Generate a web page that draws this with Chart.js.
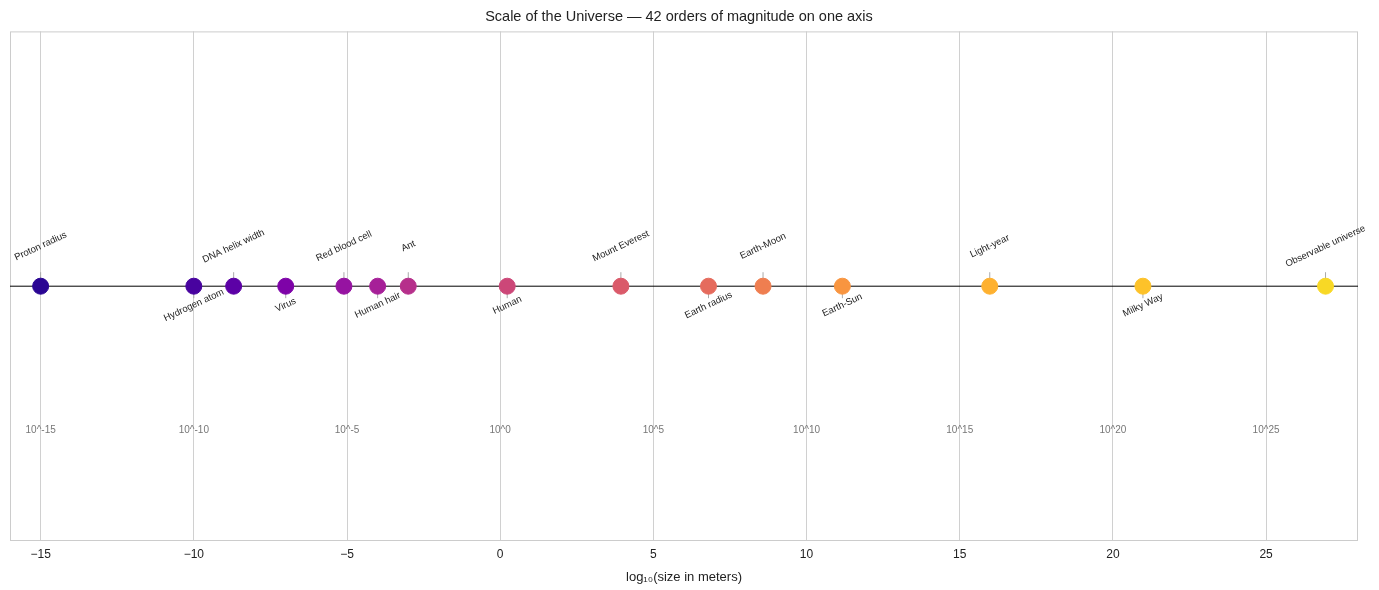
<!DOCTYPE html>
<html><head><meta charset="utf-8">
<script src="https://cdn.jsdelivr.net/npm/chart.js@4"></script>
<style>body{margin:0;background:#fff}#w{width:1379px;height:590px}</style>
</head><body><div id="w"><canvas id="c"></canvas></div>
<script>
const names=["Proton radius","Hydrogen atom","DNA helix width","Virus","Red blood cell","Human hair","Ant","Human","Mount Everest","Earth radius","Earth-Moon","Earth-Sun","Light-year","Milky Way","Observable universe"];
const logSizes=[-15,-10,-8.7,-7,-5.1,-4,-3,0.23,3.94,6.8,8.58,11.17,15.98,20.98,26.94];
const xTicks=[-15,-10,-5,0,5,10,15,20,25];
const decadeTicks=[-15,-10,-5,0,5,10,15,20,25];
const ptColors=["#2a0593","#48039f","#5c01a6","#7e03a8","#9613a1","#a62098","#b6308b","#cc4778","#da5a6a","#e56b5d","#ef7e50","#f89540","#feb130","#fdc229","#f8d825"];
const FONT='"Liberation Sans", Arial, sans-serif';
const labelPlugin={id:'lab',
beforeDatasetsDraw(ch){
  const c=ch.ctx,x=ch.scales.x,y=ch.scales.y,y0=y.getPixelForValue(0),a=ch.chartArea;
  c.save();
  c.strokeStyle='#ccc';c.lineWidth=1;c.strokeRect(a.left+0.5,a.top+0.5,a.right-a.left-1,a.bottom-a.top-1);
  c.strokeStyle='#000';
  c.beginPath();c.moveTo(a.left,y0);c.lineTo(a.right,y0);c.stroke();
  names.forEach((n,i)=>{
    const px=x.getPixelForValue(logSizes[i]);const up=i%2===0;
    c.strokeStyle='#aaa';c.beginPath();
    if(up){c.moveTo(px,y0-14);c.lineTo(px,y0);}else{c.moveTo(px,y0);c.lineTo(px,y0+12);}
    c.stroke();
  });
  c.restore();
},
afterDatasetsDraw(ch){
  const c=ch.ctx,x=ch.scales.x,y=ch.scales.y,y0=y.getPixelForValue(0);
  c.save();
  c.font='9.5px '+FONT;c.fillStyle='#222';c.textAlign='center';c.textBaseline='middle';
  names.forEach((n,i)=>{
    const px=x.getPixelForValue(logSizes[i]);const up=i%2===0;
    c.save();c.translate(px,up?y0-40:y0+19);c.rotate(-25*Math.PI/180);c.fillText(n,0,0);c.restore();
  });
  c.fillStyle='#777';c.textBaseline='middle';c.font='10px '+FONT;
  decadeTicks.forEach(t=>{c.fillText('10^'+t,x.getPixelForValue(t),y.getPixelForValue(-0.565));});
  c.restore();
}};
new Chart(document.getElementById('c'),{type:'scatter',
data:{datasets:[{data:logSizes.map(v=>({x:v,y:0})),backgroundColor:ptColors,borderColor:ptColors,pointRadius:8,pointHoverRadius:8}]},
options:{responsive:true,maintainAspectRatio:false,animation:false,
layout:{padding:{left:0,right:21,top:0,bottom:1}},
plugins:{legend:{display:false},tooltip:{enabled:false},
title:{display:true,text:'Scale of the Universe — 42 orders of magnitude on one axis',color:'#222',font:{size:14.5,family:FONT,weight:'normal'},padding:{top:8,bottom:6}}},
scales:{x:{min:-16,max:28,afterBuildTicks(s){s.ticks=xTicks.map(v=>({value:v}));},grid:{color:'#d0d0d0',drawTicks:false},border:{display:false},
 ticks:{color:'#222',font:{size:12,family:FONT},padding:6,callback:v=>v<0?'\u2212'+(-v):v},
 title:{display:true,text:'log\u2081\u2080(size in meters)',color:'#222',font:{size:13,family:FONT},padding:{top:2}}},
 y:{min:-1,max:1,grid:{display:false},border:{display:false},ticks:{display:false},afterFit(s){s.width=10;}}}},
plugins:[labelPlugin]});
</script></body></html>
